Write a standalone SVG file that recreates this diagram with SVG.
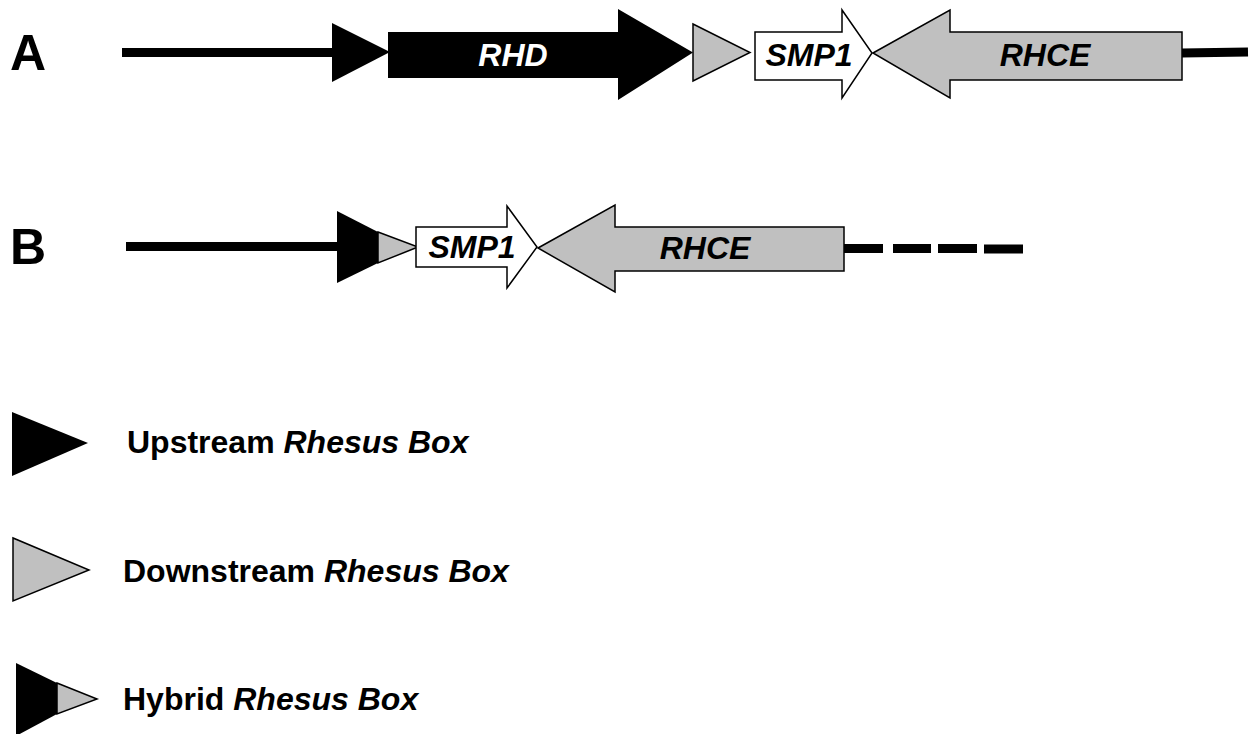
<svg xmlns="http://www.w3.org/2000/svg" width="1256" height="734" viewBox="0 0 1256 734">
<style>
.lbl{font-family:"Liberation Sans",Arial,sans-serif;font-weight:bold;fill:#000}
.gene{font-family:"Liberation Sans",Arial,sans-serif;font-weight:bold;font-style:italic;font-size:32px;text-anchor:middle}
.leg{font-family:"Liberation Sans",Arial,sans-serif;font-weight:bold;font-size:32px;fill:#000}
.blk{fill:#000;stroke:none}
.gry{fill:#c0c0c0;stroke:#000;stroke-width:1.5;stroke-linejoin:miter}
.wht{fill:#fff;stroke:#000;stroke-width:1.5}
.dna{stroke:#000;stroke-width:9;fill:none}
</style>
<rect width="1256" height="734" fill="#fff"/>
<g id="connectors">
<line class="dna" x1="122" y1="52.5" x2="334" y2="52.5"/>
<line class="dna" x1="1182" y1="53" x2="1248" y2="52"/>
<line class="dna" x1="126" y1="246.5" x2="339" y2="246.5"/>
<path class="dna" d="M844 248.5H883M893 248.5H931M938 248.5H977M984 249H1023"/>
</g>
<g id="label-A"><text class="lbl" x="10" y="70" font-size="50">A</text></g>
<g id="label-B"><text class="lbl" x="10" y="264" font-size="50">B</text></g>
<g id="A-upstream-box"><polygon class="blk" points="332,23 332,82 390,52"/></g>
<g id="A-RHD">
<polygon class="blk" points="388,32 618,32 618,9 693,52.5 618,100 618,78 388,78"/>
<text class="gene" x="513" y="66" fill="#fff">RHD</text>
</g>
<g id="A-downstream-box"><polygon class="gry" points="693,24 750,52.5 693,81"/></g>
<g id="A-SMP1">
<polygon class="wht" points="755,32 842,32 842,10 872,53 842,98 842,80 755,80"/>
<text class="gene" x="809" y="66" fill="#000">SMP1</text>
</g>
<g id="A-RHCE">
<polygon class="gry" points="873,53 950,10 950,32 1182,32 1182,80 950,80 950,98"/>
<text class="gene" x="1045" y="66" fill="#000">RHCE</text>
</g>
<g id="B-hybrid-box">
<polygon class="blk" points="337,211 378,232 378,263 337,283"/>
<polygon class="gry" points="378,232 418,247 378,263"/>
</g>
<g id="B-SMP1">
<polygon class="wht" points="416,227 507,227 507,206 537,247 507,288 507,267 416,267"/>
<text class="gene" x="472" y="258" fill="#000">SMP1</text>
</g>
<g id="B-RHCE">
<polygon class="gry" points="538,248 615,205 615,227 844,227 844,271 615,271 615,292"/>
<text class="gene" x="705" y="259" fill="#000">RHCE</text>
</g>
<g id="legend-upstream">
<polygon class="blk" points="12,412 12,476 88,443"/>
<text class="leg" x="127" y="453">Upstream <tspan font-style="italic">Rhesus Box</tspan></text>
</g>
<g id="legend-downstream">
<polygon class="gry" points="13,538 13,601 89,570"/>
<text class="leg" x="123" y="582">Downstream <tspan font-style="italic">Rhesus Box</tspan></text>
</g>
<g id="legend-hybrid">
<polygon class="blk" points="16,663 57,683 57,714 16,736"/>
<polygon class="gry" points="57,683 97,699 57,714"/>
<text class="leg" x="123" y="710">Hybrid <tspan font-style="italic">Rhesus Box</tspan></text>
</g>
</svg>
